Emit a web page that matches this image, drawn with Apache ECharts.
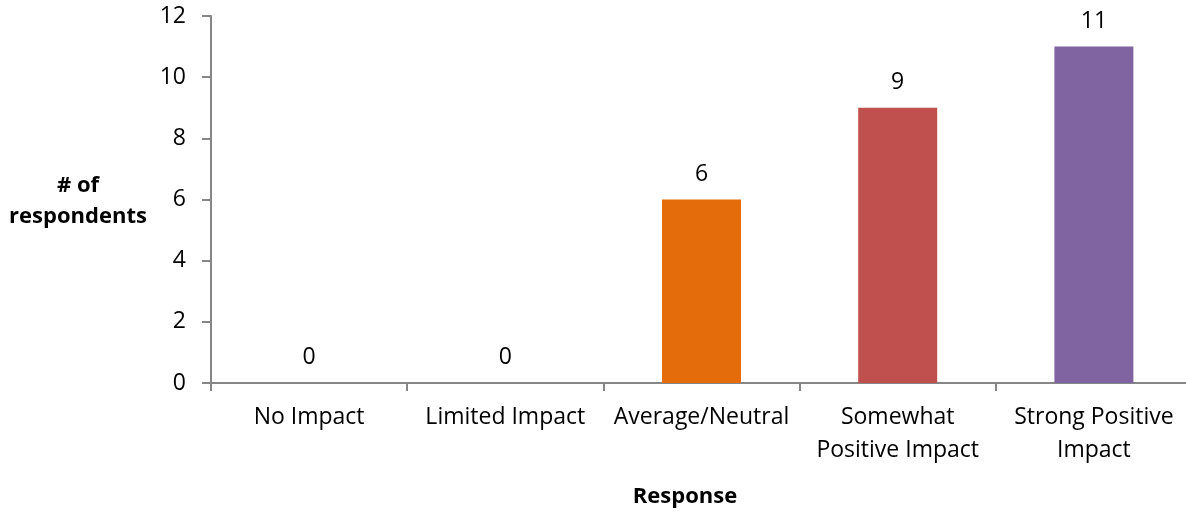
<!DOCTYPE html>
<html>
<head>
<meta charset="utf-8">
<script src="https://cdn.jsdelivr.net/npm/echarts@6/dist/echarts.min.js"></script>
<style>
html,body{margin:0;padding:0;background:#fff;overflow:hidden;width:1186px;height:512px;}
#chart{width:1192px;height:512px;}
</style>
</head>
<body>
<div id="chart"></div>
<script>
const categories = ['No Impact', 'Limited Impact', 'Average/Neutral', 'Somewhat\nPositive Impact', 'Strong Positive\nImpact'];
const values = [0, 0, 6, 9, 11];
const barColors = ['#4F81BD', '#9BBB59', '#E46C0A', '#C0504D', '#8064A2'];
const yTicks = { min: 0, max: 12, interval: 2 };

const FONT = 'Open Sans';
const chart = echarts.init(document.getElementById('chart'));
chart.setOption({
  animation: false,
  textStyle: { fontFamily: FONT },
  grid: { left: 211, right: 0, top: 16, bottom: 129, containLabel: false },
  xAxis: {
    type: 'category',
    data: categories,
    axisLine: { lineStyle: { color: '#868686', width: 2 } },
    axisTick: { show: true, length: 8, lineStyle: { color: '#868686', width: 2 } },
    axisLabel: { color: '#000', fontSize: 23, fontFamily: FONT, margin: 18, lineHeight: 33, interval: 0 },
    splitLine: { show: false }
  },
  yAxis: {
    type: 'value',
    min: yTicks.min, max: yTicks.max, interval: yTicks.interval,
    axisLine: { show: true, lineStyle: { color: '#868686', width: 2 } },
    axisTick: { show: true, length: 9, lineStyle: { color: '#868686', width: 2 } },
    axisLabel: { color: '#000', fontSize: 23, fontFamily: FONT, margin: 25 },
    splitLine: { show: false }
  },
  graphic: [
    { type: 'text', x: 78, y: 201, style: { text: '# of\nrespondents', fill: '#000', font: 'bold 22px "Open Sans"', align: 'center', verticalAlign: 'middle', lineHeight: 31 }, z: 10 },
    { type: 'text', x: 685, y: 497, style: { text: 'Response', fill: '#000', font: 'bold 22px "Open Sans"', align: 'center', verticalAlign: 'middle' }, z: 10 }
  ],
  series: [{
    type: 'bar',
    barWidth: 79,
    data: values.map((v, i) => ({ value: v, itemStyle: { color: barColors[i] } })),
    label: { show: true, position: 'top', distance: 14, color: '#000', fontSize: 23, fontFamily: FONT }
  }]
});
</script>
</body>
</html>
